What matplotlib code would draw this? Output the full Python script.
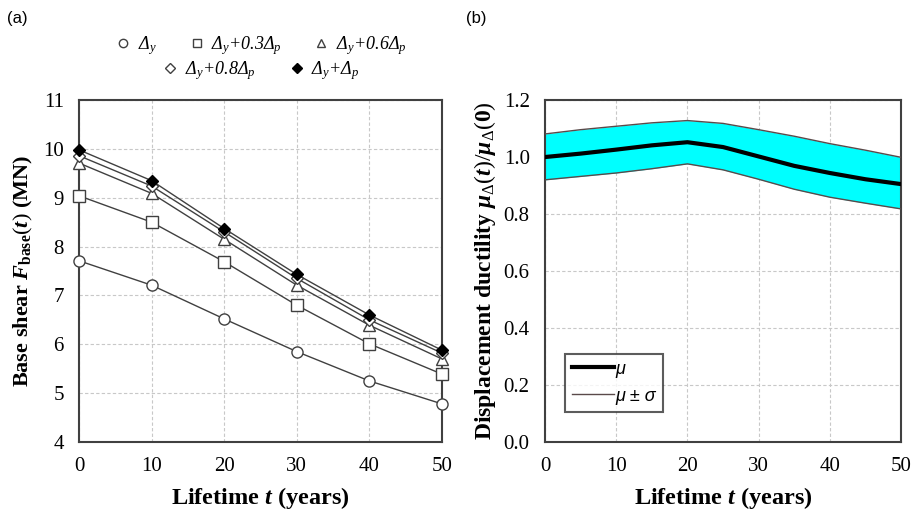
import matplotlib
matplotlib.use("Agg")
import matplotlib.pyplot as plt
from matplotlib.lines import Line2D

plt.rcParams["font.family"] = "Liberation Serif"
plt.rcParams["mathtext.fontset"] = "custom"
plt.rcParams["mathtext.rm"] = "Liberation Serif"
plt.rcParams["mathtext.it"] = "Liberation Serif:italic"
plt.rcParams["mathtext.bf"] = "Liberation Serif:bold"
plt.rcParams["mathtext.bfit"] = "Liberation Serif:italic:bold"

# (a) base shear vs lifetime
years = [0, 10, 20, 30, 40, 50]
shear_dy = [7.71, 7.21, 6.52, 5.85, 5.25, 4.78]
shear_03 = [9.04, 8.50, 7.69, 6.80, 6.01, 5.39]
shear_06 = [9.71, 9.09, 8.15, 7.21, 6.39, 5.70]
shear_08 = [9.86, 9.24, 8.30, 7.35, 6.50, 5.82]
shear_10 = [9.98, 9.35, 8.37, 7.43, 6.60, 5.88]

# (b) normalized ductility
years_b = [0, 5, 10, 15, 20, 25, 30, 35, 40, 45, 50]
duct_mean = [1.000, 1.012, 1.026, 1.041, 1.052, 1.035, 1.002, 0.969, 0.944, 0.922, 0.905]
duct_upper = [1.081, 1.096, 1.108, 1.120, 1.128, 1.118, 1.096, 1.073, 1.047, 1.024, 0.999]
duct_lower = [0.920, 0.932, 0.944, 0.959, 0.976, 0.955, 0.922, 0.887, 0.859, 0.838, 0.818]
yticks_b = [0, 0.2, 0.4, 0.6, 0.8, 1.0, 1.2]

edge = "#404040"
fig = plt.figure(figsize=(9.12, 5.13), dpi=100)
ax1 = fig.add_axes([0.0866, 0.1384, 0.398, 0.6666])
ax2 = fig.add_axes([0.5976, 0.1384, 0.3904, 0.6666])

series = [
    (shear_dy, "o", "white", "Δ$_y$"),
    (shear_03, "s", "white", "Δ$_y$+0.3Δ$_p$"),
    (shear_06, "^", "white", "Δ$_y$+0.6Δ$_p$"),
    (shear_08, "D", "white", "Δ$_y$+0.8Δ$_p$"),
    (shear_10, "D", "black", "Δ$_y$+Δ$_p$"),
]
handles = []
for vals, mk, fc, lab in series:
    ms = 8 if mk != "D" else 6.5
    ec = "black" if fc == "black" else edge
    ax1.plot(years, vals, color=edge, lw=1.0, marker=mk, ms=ms,
             mfc=fc, mec=ec, mew=1.0, clip_on=False, zorder=3)
    handles.append(Line2D([0], [0], ls="none", marker=mk, ms=ms * 0.75,
                          mfc=fc, mec=ec, label=lab))

ax1.set_xlim(0, 50)
ax1.set_ylim(4, 11)
ax1.set_xticks(years)
ax1.set_yticks(range(4, 12))
ax1.set_xlabel(r"Lifetime $\mathbfit{t}$ (years)", fontsize=17.5, fontweight="bold",
               labelpad=6)
ax1.set_ylabel(r"Base shear $\mathbfit{F}_{\mathbf{base}}(\mathbfit{t})$ (MN)",
               fontsize=16, fontweight="bold", labelpad=6)

legfont = {"family": "Liberation Serif", "style": "italic", "size": 13}
leg1 = ax1.legend(handles=handles[:3], loc="center", bbox_to_anchor=(0.5, 1.16),
                  ncol=3, frameon=False, prop=legfont, handletextpad=0.3,
                  columnspacing=1.7, borderpad=0, handlelength=1.0)
ax1.add_artist(leg1)
ax1.legend(handles=handles[3:], loc="center", bbox_to_anchor=(0.5, 1.086),
           ncol=2, frameon=False, prop=legfont, handletextpad=0.3,
           columnspacing=1.8, borderpad=0, handlelength=1.0)

ax2.fill_between(years_b, duct_lower, duct_upper, color="#00FFFF", lw=0, zorder=2)
ax2.plot(years_b, duct_mean, color="black", lw=3, label="μ", zorder=3)
ax2.plot(years_b, duct_upper, color="#5a4a4a", lw=1, label="μ ± σ", zorder=3)
ax2.plot(years_b, duct_lower, color="#5a4a4a", lw=1, zorder=3)
ax2.set_xlim(0, 50)
ax2.set_ylim(0, 1.2)
ax2.set_xticks(years)
ax2.set_yticks(yticks_b)
ax2.set_yticklabels([f"{v:.1f}" for v in yticks_b])
ax2.set_xlabel(r"Lifetime $\mathbfit{t}$ (years)", fontsize=17.5, fontweight="bold",
               labelpad=6)
ax2.set_ylabel(r"Displacement ductility $\mathbfit{\mu}_{\mathit{Δ}}(\mathbfit{t})/\mathbfit{\mu}_{\mathit{Δ}}(\mathbf{0})$",
               fontsize=17, fontweight="bold", labelpad=4)
leg2 = ax2.legend(loc="lower left", bbox_to_anchor=(0.056, 0.088), borderaxespad=0,
                  frameon=True, fancybox=False, edgecolor="#333333",
                  prop={"family": "Liberation Sans", "style": "italic", "size": 13},
                  handlelength=2.3, handletextpad=0.1, borderpad=0.4,
                  labelspacing=0.55)
leg2.get_frame().set_linewidth(1.5)

for ax in (ax1, ax2):
    ax.grid(True, color="#c8c8c8", ls=(0, (3, 2)), lw=0.8)
    ax.set_axisbelow(True)
    ax.tick_params(length=0, labelsize=15, pad=11)
    for s in ax.spines.values():
        s.set_color("#404040")
        s.set_linewidth(1.5)

fig.text(0.008, 0.955, "(a)", fontsize=12, family="Liberation Sans")
fig.text(0.511, 0.955, "(b)", fontsize=12, family="Liberation Sans")

fig.savefig("out.png", dpi=100)
